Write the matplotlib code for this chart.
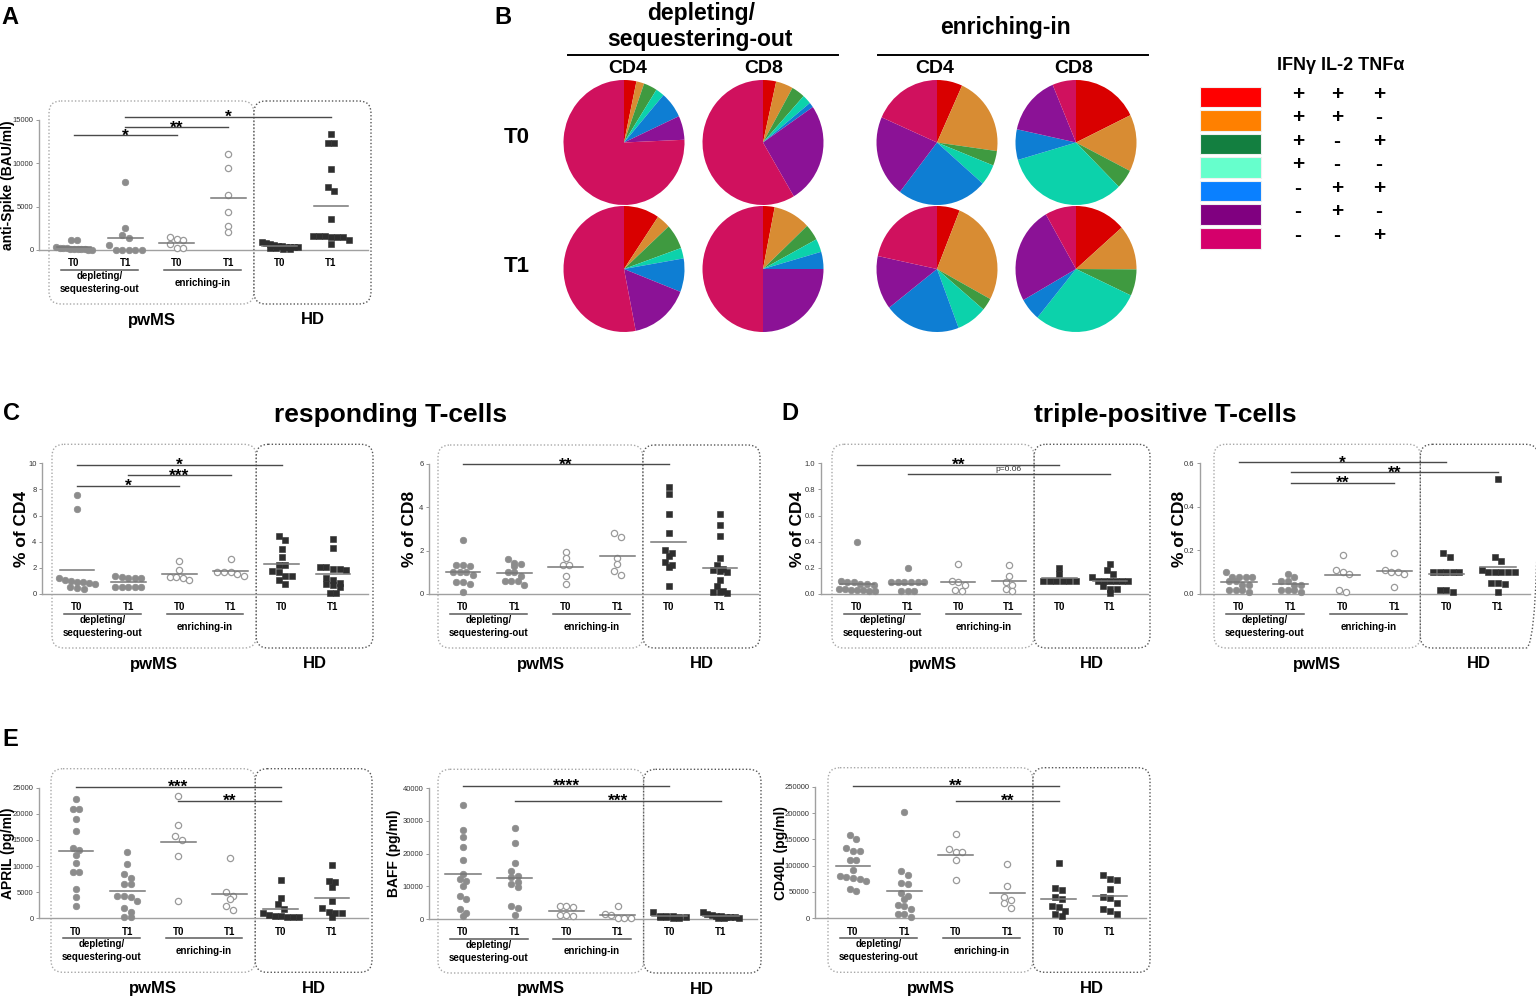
import numpy as np
import matplotlib
matplotlib.use("Agg")
import matplotlib.pyplot as plt
from matplotlib import transforms
from matplotlib.patches import FancyBboxPatch, Rectangle

plt.rcParams['font.family'] = ['Liberation Sans', 'DejaVu Sans']

W, H = 1536, 998

# ---------------- data ----------------
groups = ["T0", "T1", "T0", "T1", "T0", "T1"]

# A: anti-Spike (BAU/ml)
spike_dep_t0 = [1150, 1150, 300, 250, 200, 200, 150, 150, 100, 100, 100, 50, 50]
spike_dep_t1 = [7800, 2500, 1700, 1400, 600, 50, 50, 50, 50, 50]
spike_enr_t0 = [1500, 1300, 1100, 650, 200, 200]
spike_enr_t1 = [11100, 9500, 6300, 4400, 2800, 2100]
spike_hd_t0 = [900, 800, 700, 600, 500, 450, 400, 350, 300, 300, 250, 200, 150, 100]
spike_hd_t1 = [13400, 12300, 12300, 9400, 7300, 6800, 3600, 1600, 1600, 1600, 1500, 1500, 1500, 1200, 650]

# C: responding T-cells
cd4_dep_t0 = [7.6, 6.5, 1.2, 1.1, 1.0, 0.95, 0.9, 0.85, 0.8, 0.5, 0.45, 0.4]
cd4_dep_t1 = [1.4, 1.3, 1.2, 1.2, 1.2, 0.55, 0.55, 0.5, 0.5, 0.5]
cd4_enr_t0 = [2.5, 1.85, 1.3, 1.3, 1.2, 1.05]
cd4_enr_t1 = [2.7, 1.7, 1.7, 1.7, 1.5, 1.4]
cd4_hd_t0 = [4.4, 4.15, 3.45, 2.85, 2.25, 2.25, 1.75, 1.65, 1.4, 1.35, 1.1, 0.75]
cd4_hd_t1 = [4.2, 3.5, 2.05, 2.05, 1.95, 1.9, 1.85, 1.25, 1.1, 0.85, 0.8, 0.7, 0.55, 0.05, 0.05]

cd8_dep_t0 = [2.5, 1.35, 1.35, 1.3, 1.0, 1.0, 1.0, 0.9, 0.55, 0.55, 0.45, 0.1]
cd8_dep_t1 = [1.6, 1.45, 1.4, 1.3, 1.0, 1.0, 0.85, 0.62, 0.6, 0.6, 0.42]
cd8_enr_t0 = [1.95, 1.65, 1.35, 1.35, 0.85, 0.45]
cd8_enr_t1 = [2.8, 2.65, 1.65, 1.4, 1.05, 0.9]
cd8_hd_t0 = [4.95, 4.6, 3.7, 2.8, 2.05, 1.9, 1.75, 1.5, 1.35, 1.25, 0.35]
cd8_hd_t1 = [3.7, 3.2, 2.7, 1.65, 1.35, 1.15, 1.1, 1.05, 1.0, 0.65, 0.35, 0.15, 0.1, 0.1, 0.05]

# D: triple-positive T-cells
tp4_dep_t0 = [0.4, 0.1, 0.09, 0.09, 0.08, 0.08, 0.07, 0.04, 0.04, 0.03, 0.03, 0.03, 0.02, 0.02]
tp4_dep_t1 = [0.2, 0.09, 0.09, 0.09, 0.09, 0.09, 0.09, 0.02, 0.02, 0.02]
tp4_enr_t0 = [0.23, 0.1, 0.09, 0.07, 0.03, 0.02]
tp4_enr_t1 = [0.22, 0.14, 0.09, 0.07, 0.04, 0.02]
tp4_hd_t0 = [0.2, 0.15, 0.1, 0.1, 0.1, 0.1, 0.1, 0.1]
tp4_hd_t1 = [0.23, 0.18, 0.15, 0.13, 0.1, 0.1, 0.1, 0.1, 0.1, 0.1, 0.06, 0.04, 0.04, 0.01]

tp8_dep_t0 = [0.1, 0.08, 0.08, 0.08, 0.08, 0.06, 0.06, 0.04, 0.04, 0.02, 0.02, 0.02, 0.01]
tp8_dep_t1 = [0.09, 0.08, 0.06, 0.06, 0.04, 0.04, 0.02, 0.02, 0.02, 0.01]
tp8_enr_t0 = [0.18, 0.11, 0.1, 0.09, 0.02, 0.01]
tp8_enr_t1 = [0.19, 0.11, 0.1, 0.1, 0.09, 0.03]
tp8_hd_t0 = [0.19, 0.17, 0.1, 0.1, 0.1, 0.1, 0.1, 0.02, 0.02, 0.01]
tp8_hd_t1 = [0.53, 0.17, 0.15, 0.11, 0.1, 0.1, 0.1, 0.1, 0.1, 0.05, 0.05, 0.045, 0.01]

# E: cytokines (pg/ml)
april_dep_t0 = [22800, 21000, 21000, 19000, 16700, 13500, 13000, 12100, 10500, 8900, 8900, 5700, 4100, 2300]
april_dep_t1 = [12600, 10400, 8400, 7800, 6600, 6600, 4300, 4300, 4100, 3400, 1900, 1300, 200, 200]
april_enr_t0 = [23400, 17900, 15700, 14900, 11900, 3300]
april_enr_t1 = [11600, 5000, 4300, 3700, 2300, 1500]
april_hd_t0 = [7400, 3900, 2800, 1800, 1000, 700, 500, 400, 300, 200, 200]
april_hd_t1 = [10200, 7200, 7000, 5900, 3400, 1900, 1300, 1100, 1000, 200]

baff_dep_t0 = [34900, 27200, 25200, 22100, 18100, 13800, 12100, 11600, 10100, 7000, 6100, 3100, 1700, 1000]
baff_dep_t1 = [28000, 23300, 17000, 14600, 13200, 12800, 11400, 10800, 9700, 4000, 3500, 1100]
baff_enr_t0 = [4000, 3900, 3600, 1200, 1200, 1000]
baff_enr_t1 = [3900, 1500, 1200, 300, 300, 300]
baff_hd_t0 = [2200, 1000, 900, 800, 700, 600, 500, 500, 400, 300]
baff_hd_t1 = [2000, 1400, 1100, 900, 800, 700, 600, 500, 400, 300, 300]

cd40l_dep_t0 = [158000, 150000, 133000, 128000, 128000, 110000, 110000, 92000, 80000, 78000, 76000, 74000, 70000, 55000, 52000]
cd40l_dep_t1 = [202000, 89000, 83000, 67000, 66000, 48000, 42000, 37000, 25000, 24000, 17000, 9000, 8000, 2000]
cd40l_enr_t0 = [160000, 132000, 126000, 126000, 110000, 72000]
cd40l_enr_t1 = [104000, 62000, 41000, 34000, 30000, 20000]
cd40l_hd_t0 = [106000, 58000, 54000, 41000, 36000, 24000, 22000, 14000, 8000, 4000]
cd40l_hd_t1 = [83000, 74000, 73000, 55000, 40000, 38000, 30000, 17000, 14000, 9000]

# B: cytokine combination fractions (%), order = legend rows
pie_dep_cd4_t0 = [3.3, 2.1, 3.6, 2.3, 6.8, 6.2, 75.7]
pie_dep_cd8_t0 = [3.5, 4.6, 3.6, 2.4, 1.3, 26.1, 58.5]
pie_enr_cd4_t0 = [6.8, 20.4, 3.8, 5.4, 24.1, 21.1, 18.4]
pie_enr_cd8_t0 = [17.8, 14.7, 5.0, 33.0, 7.9, 15.3, 6.3]
pie_dep_cd4_t1 = [9.5, 3.7, 6.4, 2.7, 8.6, 16.0, 53.1]
pie_dep_cd8_t1 = [3.1, 9.9, 4.2, 3.4, 4.4, 25.0, 50.0]
pie_enr_cd4_t1 = [6.1, 26.8, 3.2, 8.1, 20.3, 13.8, 21.7]
pie_enr_cd8_t1 = [13.6, 11.5, 6.8, 29.1, 5.8, 24.9, 8.3]

cytokines = ["IFN\u03b3", "IL-2", "TNF\u03b1"]
signs = [["+", "+", "+"], ["+", "+", "-"], ["+", "-", "+"], ["+", "-", "-"],
         ["-", "+", "+"], ["-", "+", "-"], ["-", "-", "+"]]
pie_colors = ["#D90000", "#D88C33", "#3F9A40", "#0CD2AB", "#0E7ED3", "#8B1296", "#D0115E"]
legend_colors = ["#FF0000", "#FF8000", "#137F40", "#66FFCC", "#0A80FF", "#800080", "#D5006B"]

# ---------------- figure ----------------
fig = plt.figure(figsize=(W / 100, H / 100), dpi=100)
ov = fig.add_axes([0, 0, 1, 1])
ov.set_xlim(0, W)
ov.set_ylim(H, 0)
ov.axis('off')


def fy(py):
    return 1 - py / H


def swarm(ypx, d, wmax):
    order = np.argsort(-ypx, kind='stable')
    offs = np.zeros(len(ypx))
    rows = []
    for i in order:
        if rows and rows[-1][0] - ypx[i] < d * 0.8:
            rows[-1][1].append(i)
        else:
            rows.append([ypx[i], [i]])
    for _, idx in rows:
        n = len(idx)
        sp = d if n == 1 else min(d, wmax / (n - 1))
        for k, i in enumerate(idx):
            offs[i] = (k - (n - 1) / 2) * sp
    return offs


def dot_panel(L, R, base, top, ymax, g0, g5, data, yticks, ylabels, ylabel, ylab_x, brackets):
    step = (g5 - g0) / 5
    ax = fig.add_axes([L / W, 1 - base / H, (R - L) / W, (base - top) / H])
    ax.patch.set_alpha(0)
    ax.set_xlim(-(g0 - L) / step, 5 + (R - g5) / step)
    ax.set_ylim(0, ymax)
    ppu = (base - top) / ymax
    for i, vals in enumerate(data):
        vals = np.asarray(vals, float)
        x = i + swarm(vals * ppu, 6.6, 0.7 * step) / step
        if i < 2:
            ax.plot(x, vals, 'o', ms=4.7, mfc='#8c8c8c', mec='#8c8c8c', mew=0.5, clip_on=False, zorder=3)
        elif i < 4:
            ax.plot(x, vals, 'o', ms=4.5, mfc='white', mec='#9a9a9a', mew=0.9, clip_on=False, zorder=3)
        else:
            ax.plot(x, vals, 's', ms=4.5, mfc='#2e2e2e', mec='#2e2e2e', mew=0.4, clip_on=False, zorder=3)
        m = vals.mean()
        ax.plot([i - 0.34, i + 0.34], [m, m], color='#777777', lw=1.1, zorder=4, clip_on=False)
    for s in ['top', 'right']:
        ax.spines[s].set_visible(False)
    for s in ['left', 'bottom']:
        ax.spines[s].set_color('#a0a0a0')
        ax.spines[s].set_linewidth(1.0)
    ax.set_yticks(yticks)
    ax.set_yticklabels(ylabels)
    ax.tick_params(axis='y', labelsize=5.5, length=2.5, width=0.7, color='#999999',
                   labelcolor='#333333', pad=1.5)
    ax.set_xticks(range(6))
    ax.set_xticklabels(groups, fontsize=7, fontweight='bold')
    ax.tick_params(axis='x', length=0, pad=6)
    ax.set_ylabel(ylabel, fontsize=10 if len(ylabel) > 10 else 12.5, fontweight='bold')
    ax.yaxis.set_label_coords((ylab_x - L) / (R - L), 0.5)
    ax.yaxis.label.set_va('center')

    for i, j, yv, lab in brackets:
        ax.plot([i, j], [yv, yv], color='#4a4a4a', lw=1.0, clip_on=False)
        if lab.startswith('p'):
            ax.annotate(lab, ((i + j) / 2, yv), xytext=(0, 0.8), textcoords='offset points',
                        ha='center', va='bottom', fontsize=6, color='#333333',
                        annotation_clip=False)
        else:
            ax.annotate(lab, ((i + j) / 2, yv), xytext=(0, -3.8), textcoords='offset points',
                        ha='center', va='baseline', fontsize=12.5, fontweight='bold',
                        annotation_clip=False)

    trans = transforms.blended_transform_factory(ax.transData, fig.transFigure)
    for a, b, lines in [(0, 1, ["depleting/", "sequestering-out"]), (2, 3, ["enriching-in"])]:
        ax.plot([a - 0.25, b + 0.25], [fy(base + 19.5)] * 2, transform=trans, color='#5a5a5a',
                lw=1.1, clip_on=False)
        if len(lines) == 2:
            ax.text((a + b) / 2, fy(base + 26), lines[0], transform=trans, ha='center',
                    va='center', fontsize=7, fontweight='bold')
            ax.text((a + b) / 2, fy(base + 39), lines[1], transform=trans, ha='center',
                    va='center', fontsize=7, fontweight='bold')
        else:
            ax.text((a + b) / 2, fy(base + 32.5), lines[0], transform=trans, ha='center',
                    va='center', fontsize=7, fontweight='bold')

    # group boxes
    pl = g0 - 25
    pr = (g0 + 3 * step + g0 + 4 * step) / 2
    hr = g5 + 40
    bt, bb = top - 19, base + 54
    ov.add_patch(FancyBboxPatch((pl, bt), pr - pl, bb - bt, boxstyle="round,pad=0,rounding_size=12",
                                fill=False, ec='#a8a8a8', lw=1.0, ls=(0, (1, 1.5))))
    ov.add_patch(FancyBboxPatch((pr, bt), hr - pr, bb - bt, boxstyle="round,pad=0,rounding_size=12",
                                fill=False, ec='#555555', lw=1.0, ls=(0, (1, 1.5))))
    ov.text((pl + pr) / 2, base + 70, "pwMS", ha='center', va='center', fontsize=12, fontweight='bold')
    ov.text((pr + hr) / 2, base + 70, "HD", ha='center', va='center', fontsize=12, fontweight='bold')
    return ax


# A
dot_panel(39, 368, 250, 120, 15000, 74, 331,
          [spike_dep_t0, spike_dep_t1, spike_enr_t0, spike_enr_t1, spike_hd_t0, spike_hd_t1],
          [0, 5000, 10000, 15000], ["0", "5000", "10000", "15000"],
          "anti-Spike (BAU/ml)", 8,
          [(0, 2, 13270, '*'), (1, 3, 14190, '**'), (1, 5, 15350, '*')])

# C
dot_panel(42, 368, 594, 463.3, 10, 77, 333,
          [cd4_dep_t0, cd4_dep_t1, cd4_enr_t0, cd4_enr_t1, cd4_hd_t0, cd4_hd_t1],
          [0, 2, 4, 6, 8, 10], ["0", "2", "4", "6", "8", "10"],
          "% of CD4", 22,
          [(0, 4, 9.9, '*'), (1, 3, 9.1, '***'), (0, 2, 8.3, '*')])
dot_panel(429, 758, 594, 464, 6, 463, 720,
          [cd8_dep_t0, cd8_dep_t1, cd8_enr_t0, cd8_enr_t1, cd8_hd_t0, cd8_hd_t1],
          [0, 2, 4, 6], ["0", "2", "4", "6"],
          "% of CD8", 409,
          [(0, 4, 6.0, '**')])

# D
dot_panel(821, 1148, 594, 463.3, 1.0, 857, 1110,
          [tp4_dep_t0, tp4_dep_t1, tp4_enr_t0, tp4_enr_t1, tp4_hd_t0, tp4_hd_t1],
          [0, 0.2, 0.4, 0.6, 0.8, 1.0], ["0.0", "0.2", "0.4", "0.6", "0.8", "1.0"],
          "% of CD4", 797,
          [(0, 4, 0.99, '**'), (1, 5, 0.92, 'p=0.06')])
dot_panel(1200, 1530, 594, 463.3, 0.6, 1239, 1498,
          [tp8_dep_t0, tp8_dep_t1, tp8_enr_t0, tp8_enr_t1, tp8_hd_t0, tp8_hd_t1],
          [0, 0.2, 0.4, 0.6], ["0.0", "0.2", "0.4", "0.6"],
          "% of CD8", 1180,
          [(0, 4, 0.605, '*'), (1, 5, 0.558, '**'), (1, 3, 0.511, '**')])

# E
dot_panel(39, 368, 918.3, 787.7, 25000, 76, 332,
          [april_dep_t0, april_dep_t1, april_enr_t0, april_enr_t1, april_hd_t0, april_hd_t1],
          [0, 5000, 10000, 15000, 20000, 25000], ["0", "5000", "10000", "15000", "20000", "25000"],
          "APRIL (pg/ml)", 8,
          [(0, 4, 25200, '***'), (2, 4, 22500, '**')])
dot_panel(429, 757, 919, 788.3, 40000, 463, 721,
          [baff_dep_t0, baff_dep_t1, baff_enr_t0, baff_enr_t1, baff_hd_t0, baff_hd_t1],
          [0, 10000, 20000, 30000, 40000], ["0", "10000", "20000", "30000", "40000"],
          "BAFF (pg/ml)", 394,
          [(0, 4, 40800, '****'), (1, 5, 36200, '***')])
dot_panel(815, 1146, 918.3, 786.7, 250000, 853, 1110,
          [cd40l_dep_t0, cd40l_dep_t1, cd40l_enr_t0, cd40l_enr_t1, cd40l_hd_t0, cd40l_hd_t1],
          [0, 50000, 100000, 150000, 200000, 250000],
          ["0", "50000", "100000", "150000", "200000", "250000"],
          "CD40L (pg/ml)", 781,
          [(0, 4, 252000, '**'), (2, 4, 223000, '**')])

# B: pies
pie_rows = [(80, 205, [pie_dep_cd4_t0, pie_dep_cd8_t0, pie_enr_cd4_t0, pie_enr_cd8_t0]),
            (206, 332, [pie_dep_cd4_t1, pie_dep_cd8_t1, pie_enr_cd4_t1, pie_enr_cd8_t1])]
pie_cx = [624, 763, 937, 1076]
pie_w = 121
for ptop, pbot, fracs in pie_rows:
    for cx, fr in zip(pie_cx, fracs):
        pax = fig.add_axes([(cx - pie_w / 2) / W, 1 - pbot / H, pie_w / W, (pbot - ptop) / H])
        pax.pie(fr, colors=pie_colors, startangle=90, counterclock=False, radius=1,
                wedgeprops=dict(linewidth=0))
        pax.set_aspect('auto')
        pax.set_xlim(-1, 1)
        pax.set_ylim(-1, 1)
        pax.axis('off')

ov.text(701, 13, "depleting/", ha='center', va='center', fontsize=16.5, fontweight='bold')
ov.text(700, 39, "sequestering-out", ha='center', va='center', fontsize=16.5, fontweight='bold')
ov.text(1005, 27, "enriching-in", ha='center', va='center', fontsize=16.5, fontweight='bold')
ov.plot([568, 838], [55, 55], color='black', lw=1.4)
ov.plot([878, 1148], [55, 55], color='black', lw=1.4)
for cx, lab in zip([628, 764, 935, 1074], ["CD4", "CD8", "CD4", "CD8"]):
    ov.text(cx, 68, lab, ha='center', va='center', fontsize=14, fontweight='bold')
ov.text(517, 137, "T0", ha='center', va='center', fontsize=16, fontweight='bold')
ov.text(517, 267, "T1", ha='center', va='center', fontsize=16, fontweight='bold')

# legend
ov.text(1341, 65, " ".join(cytokines), ha='center', va='center', fontsize=13, fontweight='bold')
sign_x = [1298, 1337, 1379]
for k, (col, row) in enumerate(zip(legend_colors, signs)):
    yt = 86.7 + 23.55 * k
    ov.add_patch(Rectangle((1200, yt), 61, 20.5, fc=col, ec='#f0f0f0', lw=0.8))
    for sx, sg in zip(sign_x, row):
        ov.text(sx, yt + 7.5, sg, ha='center', va='center', fontsize=15, fontweight='bold')

# panel letters and titles
for lab, x, y in [("A", 10, 17), ("B", 503, 17), ("C", 11, 413), ("D", 790, 413), ("E", 10, 740)]:
    ov.text(x, y, lab, ha='center', va='center', fontsize=17, fontweight='bold')
ov.text(391, 415, "responding T-cells", ha='center', va='center', fontsize=19, fontweight='bold')
ov.text(1165, 415, "triple-positive T-cells", ha='center', va='center', fontsize=19, fontweight='bold')

fig.savefig("out.png", dpi=100)
